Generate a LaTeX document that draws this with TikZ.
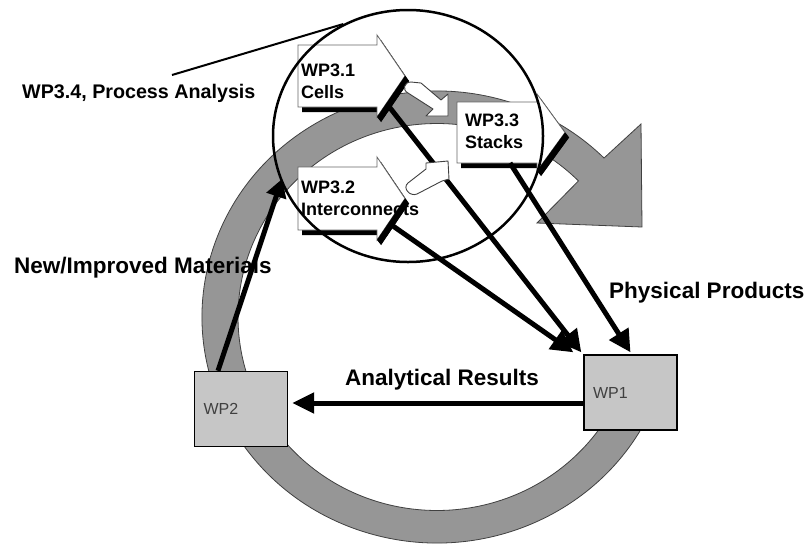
\documentclass[tikz,border=0pt]{standalone}
\usepackage{fontspec}
\setmainfont{Liberation Sans}
\usetikzlibrary{arrows.meta,calc,shapes.geometric}

\definecolor{ringgray}{HTML}{969696}
\definecolor{boxgray}{HTML}{C6C6C6}
\definecolor{edgegray}{HTML}{404040}

\begin{document}
\begin{tikzpicture}[x=1pt,y=-1pt,
  ring/.style={fill=ringgray, draw=edgegray, line width=0.8pt},
  wpshape/.style={fill=white, draw=edgegray!80, line width=0.8pt},
  wpshadow/.style={fill=black},
  wptext/.style={anchor=base west, inner sep=0pt, font=\bfseries\fontsize{18}{22}\selectfont},
  wpbox/.style={draw=black, line width=1.4pt, fill=boxgray, minimum width=93pt,
    minimum height=75pt, text width=75pt, inner xsep=9pt, align=left,
    font=\fontsize{16}{19}\selectfont, text=black!75},
  flow/.style={line width=5pt, -{Triangle[length=22pt,width=22pt]}},
  caption/.style={anchor=base west, inner sep=0pt, font=\bfseries\fontsize{22.5}{27}\selectfont},
  turn/.style={fill=white, draw=edgegray, line width=0.9pt, line join=round},
]
\useasboundingbox (0,0) rectangle (805,544);
\fill[white] (0,0) rectangle (805,544);

% large circular arrow running clockwise round the cycle
\path[ring] (437,317) ++(18:235 and 226)
  arc[start angle=18, end angle=315.3, x radius=235, y radius=226]
  -- (641,124) -- (642,227) -- (537,223)
  -- ($(437,317)+(315.3:199 and 193.5)$)
  arc[start angle=315.3, end angle=18, x radius=199, y radius=193.5] -- cycle;

% WP3.1 block arrow with drop shadow
\fill[wpshadow, shift={(4,5)}] (298,45) -- (377,45) -- (377,35) -- (405,76) -- (377,117) -- (377,107) -- (298,107) -- cycle;
\path[wpshape] (298,45) -- (377,45) -- (377,35) -- (405,76) -- (377,117) -- (377,107) -- (298,107) -- cycle;
\node[wptext] (wp31a) at (301,76) {WP3.1};
\node[wptext] (wp31b) at (301,98) {Cells};
\fill[wpshadow] (405,76) -- (377,117) -- (381,122) -- (409,81) -- cycle;

% WP3.2 block arrow with drop shadow
\fill[wpshadow, shift={(4,5)}] (298,167) -- (377,167) -- (377,157) -- (405,198.5) -- (377,240) -- (377,230) -- (298,230) -- cycle;
\path[wpshape] (298,167) -- (377,167) -- (377,157) -- (405,198.5) -- (377,240) -- (377,230) -- (298,230) -- cycle;
\node[wptext] (wp32a) at (301,193) {WP3.2};
\node[wptext] (wp32b) at (301,215) {Interconnects};
\fill[wpshadow] (405,198.5) -- (377,240) -- (381,245) -- (409,203.5) -- cycle;

% WP3.3 block arrow with drop shadow
\fill[wpshadow, shift={(4,5)}] (457,102) -- (537,102) -- (537,94) -- (565,132.5) -- (537,171) -- (537,163) -- (457,163) -- cycle;
\path[wpshape] (457,102) -- (537,102) -- (537,94) -- (565,132.5) -- (537,171) -- (537,163) -- (457,163) -- cycle;
\node[wptext] (wp33a) at (465,126) {WP3.3};
\node[wptext] (wp33b) at (465,148) {Stacks};
\fill[wpshadow] (565,132.5) -- (537,171) -- (541,176) -- (569,137.5) -- cycle;

% WP3.4 process analysis envelope and its pointer
\node[draw, ellipse, line width=2.5pt, minimum width=270pt, minimum height=252pt, inner sep=0pt] (wp34) at (408,136) {};
\coordinate (lead) at (172,75);
\draw[line width=2pt] (lead) -- (wp34.120);

% work package boxes
\node[wpbox] (wp2) at (241,409) {WP2};
\node[wpbox] (wp1) at (630.5,392.5) {WP1};

% flows between the work packages
\coordinate (s31) at (387,104);
\coordinate (s32) at (393,226);
\coordinate (s33) at (510,163);
\coordinate (matin) at (282,179);
\coordinate (ar) at (0,403);
\draw[flow] (s32) -- ([xshift=-10pt,yshift=2pt]wp1.north west);
\draw[flow] (s31) -- ([xshift=-2pt,yshift=2pt]wp1.north west);
\draw[flow] (s33) -- ([yshift=2pt]wp1.north);
\draw[flow, -{Triangle[length=18pt,width=20pt]}] ([xshift=-23pt]wp2.north) -- (matin);
\draw[flow, -{Triangle[length=22pt,width=20pt]}, shorten >=4pt] (wp1.west |- ar) -- (wp2.east |- ar);

% small hand-over arrows towards the stacks
\path[turn] (411,82) -- (421,83) -- (441,100) -- (448,94) -- (448,116) -- (426,116) -- (433,109)
  -- (408,93) .. controls (402,90) and (404,82) .. (411,82) -- cycle;
\path[turn] (426,169) -- (426,163) -- (448,161) -- (449,179) -- (442,181) -- (417,194)
  .. controls (410,197) and (402,188) .. (408,183) -- cycle;

% captions
\node[caption, font=\bfseries\fontsize{19.7}{24}\selectfont] (c34) at (22,98) {WP3.4, Process Analysis};
\node[caption] (cnew) at (14,273) {New/Improved Materials};
\node[caption] (cana) at (345,385) {Analytical Results};
\node[caption] (cphy) at (609,298) {Physical Products};
\end{tikzpicture}
\end{document}
